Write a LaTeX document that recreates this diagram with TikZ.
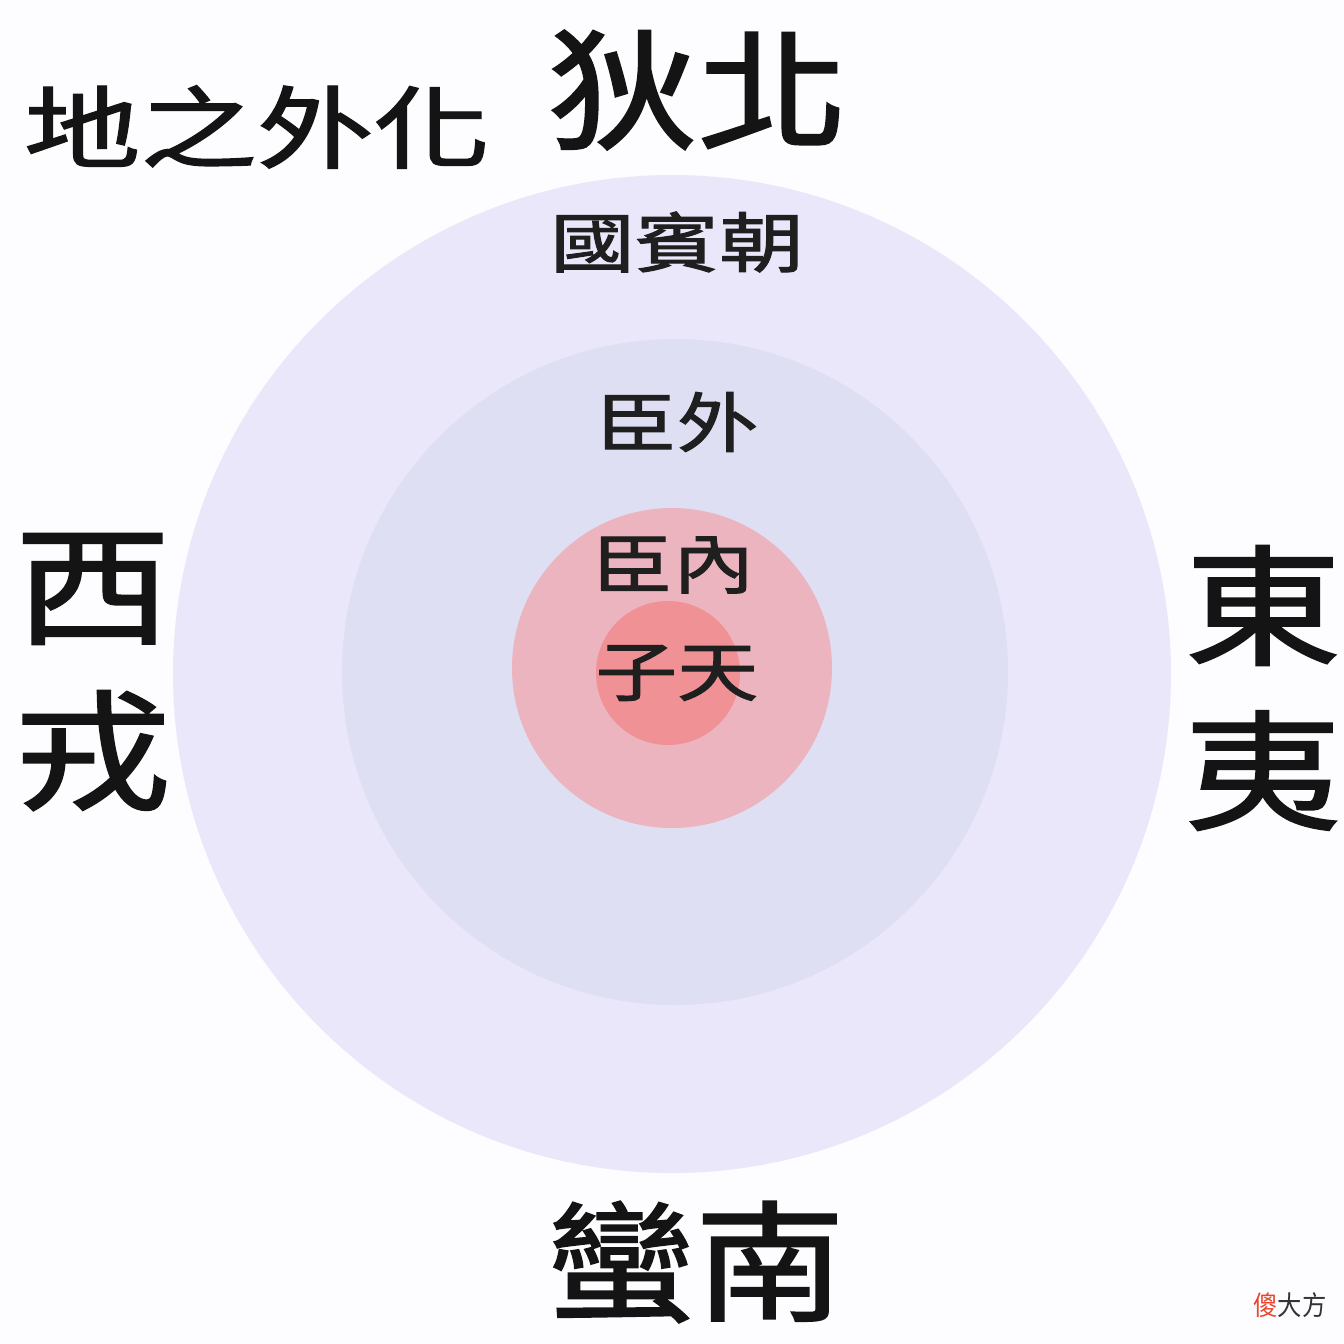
\documentclass[tikz,border=0pt]{standalone}
\usepackage{fontspec}
\usepackage{graphicx}
\usepackage{xcolor}
\usepackage{tikz}
\newfontfamily\cjk[FakeBold=1.5]{Noto Sans CJK TC}
\newfontfamily\cjksc{Noto Sans CJK SC}
\definecolor{paper}{RGB}{253,252,254}
\definecolor{outerring}{RGB}{234,231,250}
\definecolor{midring}{RGB}{222,223,243}
\definecolor{pinkring}{RGB}{236,180,190}
\definecolor{corepink}{RGB}{240,145,150}
\definecolor{markred}{RGB}{232,69,44}
\newcommand{\wide}[2][1.2]{\scalebox{#1}[1]{#2}}

\begin{document}
\begin{tikzpicture}[
  x=0.01cm, y=-0.01cm,
  ring/.style={fill=#1, draw=none},
  bigchar/.style={inner sep=0pt, align=center, text=black!92, font=\cjk\fontsize{37}{47}\selectfont},
  headline/.style={inner sep=0pt, text=black!92, font=\cjk\fontsize{25.5}{30}\selectfont},
  ringlabel/.style={inner sep=0pt, text=black!88, font=\cjk\fontsize{18.5}{22}\selectfont},
]
% Background
\fill[paper] (0,0) rectangle (1344,1344);
\useasboundingbox (0,0) rectangle (1344,1344);

% Rings
\fill[ring=outerring] (672,674) circle (499);
\fill[ring=midring] (675,672) circle (333);
\fill[ring=pinkring] (672,668) circle (160);
\fill[ring=corepink] (668,673) circle (72);

% Ring labels
\node[ringlabel] (chao) at (677,242) {\wide[1.3]{國賓朝}};
\node[ringlabel] (waichen) at (677,422) {\wide[1.25]{臣外}};
\node[ringlabel] (neichen) at (673,565) {\wide[1.25]{臣內}};
\node[ringlabel] (tianzi) at (677,673) {\wide[1.25]{子天}};

% Four quarters
\node[headline] (huawai) at (257,127) {\wide[1.3]{地之外化}};
\node[bigchar] (bei) at (698,90) {\wide[1.15]{狄北}};
\node[bigchar] (xi) at (93,672) {\wide{西}\\\wide{戎}};
\node[bigchar] (dong) at (1263,688) {\wide{東}\\\wide{夷}};
\node[bigchar] (nan) at (695,1262) {\wide[1.15]{蠻南}};

% Mark
\node[inner sep=0pt, font=\cjksc\fontsize{7.7}{9}\selectfont] (mark) at (1290,1305)
  {\wide[0.9]{\textcolor{markred}{傻}\textcolor{black!80}{大方}}};
\end{tikzpicture}
\end{document}
